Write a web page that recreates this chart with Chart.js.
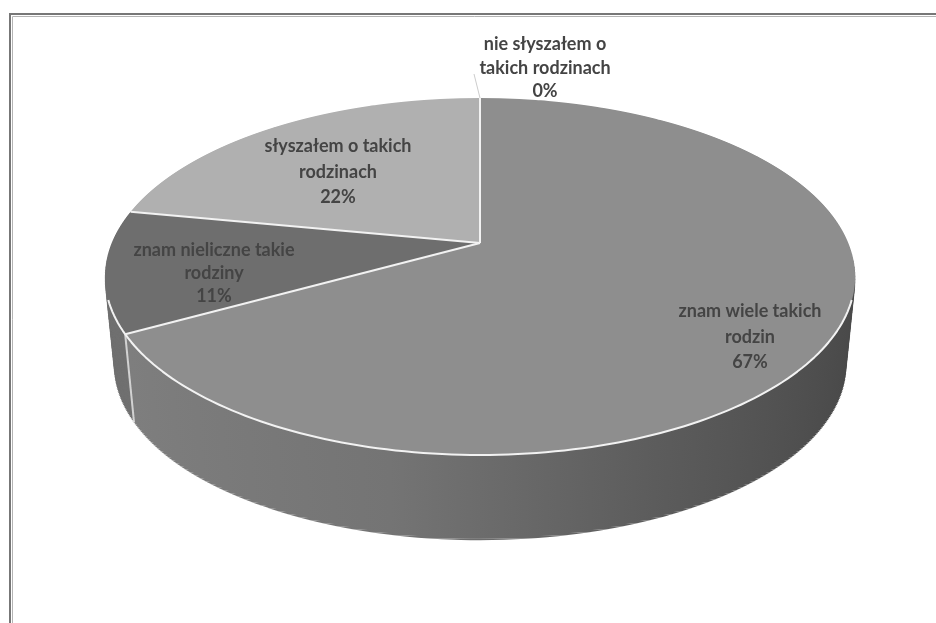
<!DOCTYPE html>
<html><head><meta charset="utf-8">
<style>html,body{margin:0;padding:0;background:#fff}#w{position:relative;width:936px;height:623px}canvas{display:block}</style>
<script src="https://cdn.jsdelivr.net/npm/chart.js@4/dist/chart.umd.min.js"></script>
</head><body><div id="w"><canvas id="c" width="936" height="623"></canvas></div>
<script>
const categories = ["znam wiele takich rodzin","znam nieliczne takie rodziny","słyszałem o takich rodzinach","nie słyszałem o takich rodzinach"];
const values = [67,11,22,0];
const percentLabels = ["67%","11%","22%","0%"];
const labelLines = [["znam wiele takich","rodzin"],["znam nieliczne takie","rodziny"],["słyszałem o takich","rodzinach"],["nie słyszałem o","takich rodzinach"]];
const topColors = ["#8e8e8e","#6e6e6e","#b0b0b0","#9a9a9a"];
const sideColors = ["#5c5c5c","#707070","#808080","#808080"];

/* look of the tilted disc */
const view = {cx:480, cy:243, A:368.3, B:172.2, p:0.1877, depth:90.5, shrink:0.025};
const labelPos = [[750,337],[214,273],[338,172],[545,68]];
const labelGaps = [25.5,23,25.5,23.5];

function project(ux,uy,dy,k){const w=1-view.p*uy;return [view.cx+k*view.A*ux/w, view.cy+dy+k*view.B*uy/w];}

function drawFace(ctx,chart,arcs,dy,k,band,yMin,fillFor){
  const a0=arcs[0],R=a0.outerRadius,ax=a0.x,ay=a0.y,{p}=view,A=view.A*k,B=view.B*k;
  const top=-B/(1+p), bot=B/(1-p);
  const inv=y=>y/(B+p*y);
  for(let y=Math.floor(Math.max(top,yMin));y<bot;y+=band){
    const y1=y+band,u0=inv(y),u1=inv(Math.min(y1,bot-0.0001));
    const um=(u0+u1)/2,s=A/(1-p*um)/R,d=(y1-y)/((inv(y1)-u0)*R);
    ctx.save();
    ctx.setTransform(1,0,0,1,0,0);
    ctx.beginPath();ctx.rect(0,view.cy+dy+y,936,band);ctx.clip();
    ctx.setTransform(s,0,0,d,view.cx-s*ax,view.cy+dy+y-d*(ay+u0*R));
    arcs.forEach((arc,i)=>{
      if(values[i]===0)return;
      const o=arc.options,bg=o.backgroundColor,bw=o.borderWidth;
      o.backgroundColor=fillFor(i);o.borderWidth=0;
      arc.draw(ctx,chart.chartArea);
      o.backgroundColor=bg;o.borderWidth=bw;
    });
    ctx.restore();
  }
}

const pie3d={id:'pie3d',
  beforeDatasetDraw(chart){
    const ctx=chart.ctx,arcs=chart.getDatasetMeta(0).data;
    /* frame */
    ctx.save();ctx.strokeStyle='#777777';ctx.lineWidth=2;
    ctx.beginPath();ctx.moveTo(10,623);ctx.lineTo(10,14);ctx.lineTo(936,14);ctx.stroke();
    ctx.strokeStyle='#b4b4b4';ctx.lineWidth=1;
    ctx.beginPath();ctx.moveTo(12.5,623);ctx.lineTo(12.5,16.5);ctx.lineTo(936,16.5);ctx.stroke();ctx.restore();
    /* side wall */
    const g=ctx.createLinearGradient(arcs[0].x-arcs[0].outerRadius,0,arcs[0].x+arcs[0].outerRadius,0);
    g.addColorStop(0,'#808080');g.addColorStop(.4,'#747474');g.addColorStop(.7,'#5c5c5c');g.addColorStop(1,'#484848');
    for(let t=1;t>=0;t-=0.02){
      drawFace(ctx,chart,arcs,t*view.depth,1-view.shrink*t,3,10,i=>i===0?g:sideColors[i]);
    }
    /* top face */
    drawFace(ctx,chart,arcs,0,1,1,-1000,i=>topColors[i]);
    /* rim and spokes as white lines */
    ctx.save();ctx.strokeStyle='#f2f2f2';ctx.lineWidth=2;ctx.lineJoin='round';
    const rim=(a,b)=>{ctx.beginPath();for(let n=0;n<=120;n++){const th=a+(b-a)*n/120,[x,y]=project(Math.cos(th),Math.sin(th),0,1);n?ctx.lineTo(x,y):ctx.moveTo(x,y);}ctx.stroke();};
    const end=arcs[0].endAngle;
    rim(0.317,Math.PI-0.317);
    arcs.forEach(arc=>{
      const [x,y]=project(Math.cos(arc.startAngle),Math.sin(arc.startAngle),0,1);
      ctx.beginPath();ctx.moveTo(view.cx,view.cy);ctx.lineTo(x,y);ctx.stroke();
    });
    const [sx,sy]=project(Math.cos(end),Math.sin(end),0,1);
    const [ex,ey]=project(Math.cos(end),Math.sin(end),view.depth,1-view.shrink);
    ctx.globalAlpha=.75;ctx.beginPath();ctx.moveTo(sx,sy);ctx.lineTo(ex,ey);ctx.stroke();
    /* leader for the empty slice */
    const z=arcs[3];
    const [lx,ly]=project(Math.cos(z.startAngle),Math.sin(z.startAngle),0,1);
    ctx.globalAlpha=1;ctx.strokeStyle='#cccccc';ctx.lineWidth=1;
    ctx.beginPath();ctx.moveTo(lx,ly);ctx.lineTo(lx-6,ly-24);ctx.stroke();
    ctx.restore();
    /* labels */
    ctx.save();ctx.font='bold 18px Lato, "Open Sans", sans-serif';ctx.textAlign='center';ctx.textBaseline='middle';
    ctx.fillStyle='#444444';ctx.filter='blur(0.5px)';
    categories.forEach((c,i)=>{
      const lines=[...labelLines[i],percentLabels[i]];
      lines.forEach((l,j)=>ctx.fillText(l,labelPos[i][0],labelPos[i][1]+(j-1)*labelGaps[i]));
    });
    ctx.restore();
    return false;
  }
};

new Chart(document.getElementById('c'),{
  type:'pie',
  data:{labels:categories,datasets:[{data:values,backgroundColor:topColors,borderWidth:0}]},
  options:{responsive:false,animation:false,rotation:0,
    plugins:{legend:{display:false},tooltip:{enabled:false}}},
  plugins:[pie3d]
});
</script></body></html>
